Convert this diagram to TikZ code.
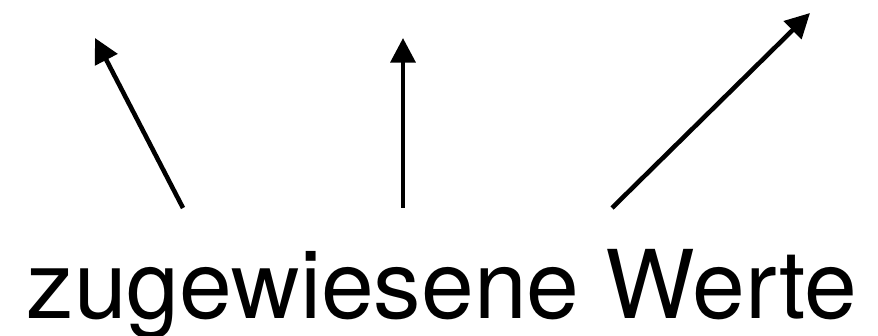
\documentclass[tikz,border=0pt]{standalone}
\usepackage{fontspec}
\setmainfont{TeX Gyre Heros}
\usetikzlibrary{arrows.meta, positioning}

\begin{document}
\begin{tikzpicture}[pfeil/.style={-{Triangle[length=7pt, width=7pt]}, line width=1.3pt}]
          \useasboundingbox (0,0) rectangle (8.78,3.35);
          \node[anchor=base west, inner sep=0pt] (werte) at (0.26,0.16) {\fontsize{27}{30}\selectfont zugewiesene Werte};
          \coordinate (fussA) at (1.83,1.27);
          \coordinate (fussB) at (4.03,1.27);
          \coordinate (fussC) at (6.12,1.27);
          \coordinate (spitzeA) at (0.95,2.97);
          \coordinate (spitzeB) at (4.03,2.97);
          \coordinate (spitzeC) at (8.10,3.22);
          \draw[pfeil] (fussA) -- (spitzeA);
          \draw[pfeil] (fussB) -- (spitzeB);
          \draw[pfeil] (fussC) -- (spitzeC);
        \end{tikzpicture}
\end{document}
